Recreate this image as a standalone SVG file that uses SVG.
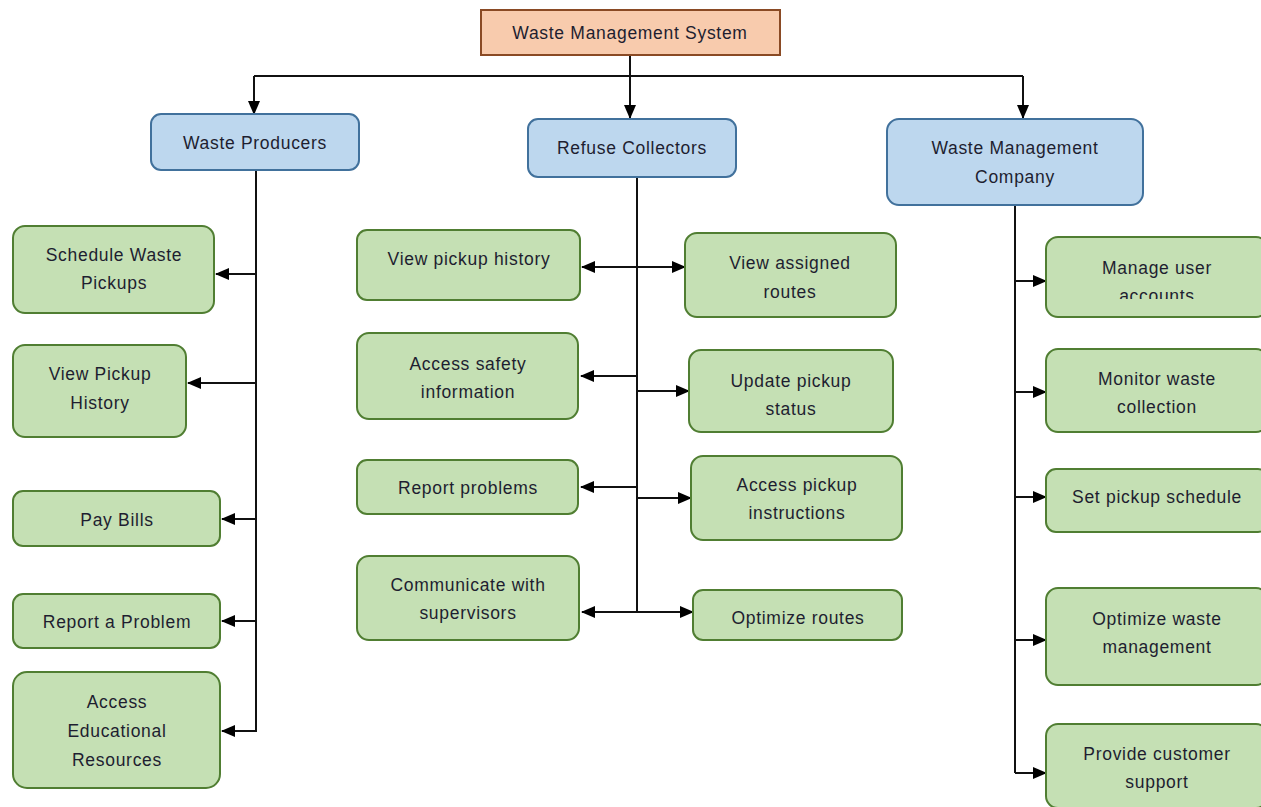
<svg xmlns="http://www.w3.org/2000/svg" width="1261" height="807" viewBox="0 0 1261 807">
  <style>
    .root { fill: #f8cbad; stroke: #8a4a24; stroke-width: 2; }
    .group { fill: #bdd7ee; stroke: #41719c; stroke-width: 2; }
    .task { fill: #c5e0b4; stroke: #507e32; stroke-width: 2; }
    text { font-family: "Liberation Sans", Arial, sans-serif; font-size: 17.5px; letter-spacing: 0.7px; fill: #1e1e30; text-anchor: middle; }
    .wire { fill: none; stroke: #111; stroke-width: 2; }
    .arr { fill: none; stroke: #111; stroke-width: 2; marker-end: url(#head); }
    .dbl { fill: none; stroke: #111; stroke-width: 2; marker-start: url(#tail); marker-end: url(#head); }
  </style>
  <defs>
    <marker id="head" viewBox="0 0 14 12" refX="13" refY="6" markerWidth="14" markerHeight="12" markerUnits="userSpaceOnUse" orient="auto">
      <path d="M0,0 L14,6 L0,12 Z" fill="#000"/>
    </marker>
    <marker id="tail" viewBox="0 0 14 12" refX="1" refY="6" markerWidth="14" markerHeight="12" markerUnits="userSpaceOnUse" orient="auto">
      <path d="M14,0 L0,6 L14,12 Z" fill="#000"/>
    </marker>
    <clipPath id="cutAccounts">
      <rect x="1040" y="230" width="230" height="69"/>
    </clipPath>
  </defs>
  <rect width="1261" height="807" fill="#ffffff"/>

  <!-- connectors -->
  <g id="connectors">
    <path class="wire" d="M254,76 H1023"/>
    <path class="arr" d="M630,55 V118"/>
    <path class="arr" d="M254,76 V114"/>
    <path class="arr" d="M1023,76 V118"/>

    <!-- Waste Producers trunk -->
    <path class="wire" d="M256,170 V731"/>
    <path class="arr" d="M256,274 H216"/>
    <path class="arr" d="M256,383 H188"/>
    <path class="arr" d="M256,519 H222"/>
    <path class="arr" d="M256,621 H222"/>
    <path class="arr" d="M257,731 H222"/>

    <!-- Refuse Collectors trunk -->
    <path class="wire" d="M637,177 V612"/>
    <path class="dbl" d="M582,267 H685"/>
    <path class="arr" d="M637,376 H581"/>
    <path class="arr" d="M637,391 H689"/>
    <path class="arr" d="M637,487 H581"/>
    <path class="arr" d="M637,498 H691"/>
    <path class="dbl" d="M582,612 H693"/>

    <!-- Waste Management Company trunk -->
    <path class="wire" d="M1015,205 V773"/>
    <path class="arr" d="M1015,281 H1046"/>
    <path class="arr" d="M1015,392 H1046"/>
    <path class="arr" d="M1015,497 H1046"/>
    <path class="arr" d="M1015,640 H1046"/>
    <path class="arr" d="M1015,773 H1046"/>
  </g>

  <!-- top level -->
  <g id="wms">
    <rect class="root" x="481" y="10" width="299" height="45"/>
    <text x="630" y="39">Waste Management System</text>
  </g>

  <!-- stakeholder groups -->
  <g id="waste-producers">
    <rect class="group" x="151" y="114" width="208" height="56" rx="10"/>
    <text x="255" y="149">Waste Producers</text>
  </g>
  <g id="refuse-collectors">
    <rect class="group" x="528" y="119" width="208" height="58" rx="10"/>
    <text x="632" y="154">Refuse Collectors</text>
  </g>
  <g id="wm-company">
    <rect class="group" x="887" y="119" width="256" height="86" rx="12"/>
    <text x="1015" y="154">Waste Management</text>
    <text x="1015" y="183">Company</text>
  </g>

  <!-- Waste Producers tasks -->
  <g id="schedule-pickups">
    <rect class="task" x="13" y="226" width="201" height="87" rx="12"/>
    <text x="114" y="261">Schedule Waste</text>
    <text x="114" y="289">Pickups</text>
  </g>
  <g id="view-pickup-history-wp">
    <rect class="task" x="13" y="345" width="173" height="92" rx="12"/>
    <text x="100" y="380">View Pickup</text>
    <text x="100" y="409">History</text>
  </g>
  <g id="pay-bills">
    <rect class="task" x="13" y="491" width="207" height="55" rx="10"/>
    <text x="117" y="526">Pay Bills</text>
  </g>
  <g id="report-a-problem">
    <rect class="task" x="13" y="594" width="207" height="54" rx="10"/>
    <text x="117" y="628">Report a Problem</text>
  </g>
  <g id="educational-resources">
    <rect class="task" x="13" y="672" width="207" height="116" rx="14"/>
    <text x="117" y="708">Access</text>
    <text x="117" y="737">Educational</text>
    <text x="117" y="766">Resources</text>
  </g>

  <!-- Refuse Collectors tasks -->
  <g id="view-pickup-history-rc">
    <rect class="task" x="357" y="230" width="223" height="70" rx="10"/>
    <text x="469" y="265">View pickup history</text>
  </g>
  <g id="view-assigned-routes">
    <rect class="task" x="685" y="233" width="211" height="84" rx="12"/>
    <text x="790" y="269">View assigned</text>
    <text x="790" y="298">routes</text>
  </g>
  <g id="safety-information">
    <rect class="task" x="357" y="333" width="221" height="86" rx="12"/>
    <text x="468" y="370">Access safety</text>
    <text x="468" y="398">information</text>
  </g>
  <g id="update-pickup-status">
    <rect class="task" x="689" y="350" width="204" height="82" rx="12"/>
    <text x="791" y="387">Update pickup</text>
    <text x="791" y="415">status</text>
  </g>
  <g id="report-problems">
    <rect class="task" x="357" y="460" width="221" height="54" rx="10"/>
    <text x="468" y="494">Report problems</text>
  </g>
  <g id="pickup-instructions">
    <rect class="task" x="691" y="456" width="211" height="84" rx="12"/>
    <text x="797" y="491">Access pickup</text>
    <text x="797" y="519">instructions</text>
  </g>
  <g id="communicate-supervisors">
    <rect class="task" x="357" y="556" width="222" height="84" rx="12"/>
    <text x="468" y="591">Communicate with</text>
    <text x="468" y="619">supervisors</text>
  </g>
  <g id="optimize-routes">
    <rect class="task" x="693" y="590" width="209" height="50" rx="10"/>
    <text x="798" y="624">Optimize routes</text>
  </g>

  <!-- Waste Management Company tasks -->
  <g id="manage-accounts">
    <rect class="task" x="1046" y="237" width="222" height="80" rx="12"/>
    <text x="1157" y="274">Manage user</text>
    <text x="1157" y="302" clip-path="url(#cutAccounts)">accounts</text>
  </g>
  <g id="monitor-collection">
    <rect class="task" x="1046" y="349" width="222" height="83" rx="12"/>
    <text x="1157" y="385">Monitor waste</text>
    <text x="1157" y="413">collection</text>
  </g>
  <g id="set-pickup-schedule">
    <rect class="task" x="1046" y="469" width="222" height="63" rx="10"/>
    <text x="1157" y="503">Set pickup schedule</text>
  </g>
  <g id="optimize-waste-management">
    <rect class="task" x="1046" y="588" width="222" height="97" rx="12"/>
    <text x="1157" y="625">Optimize waste</text>
    <text x="1157" y="653">management</text>
  </g>
  <g id="customer-support">
    <rect class="task" x="1046" y="724" width="222" height="84" rx="12"/>
    <text x="1157" y="760">Provide customer</text>
    <text x="1157" y="788">support</text>
  </g>
</svg>
